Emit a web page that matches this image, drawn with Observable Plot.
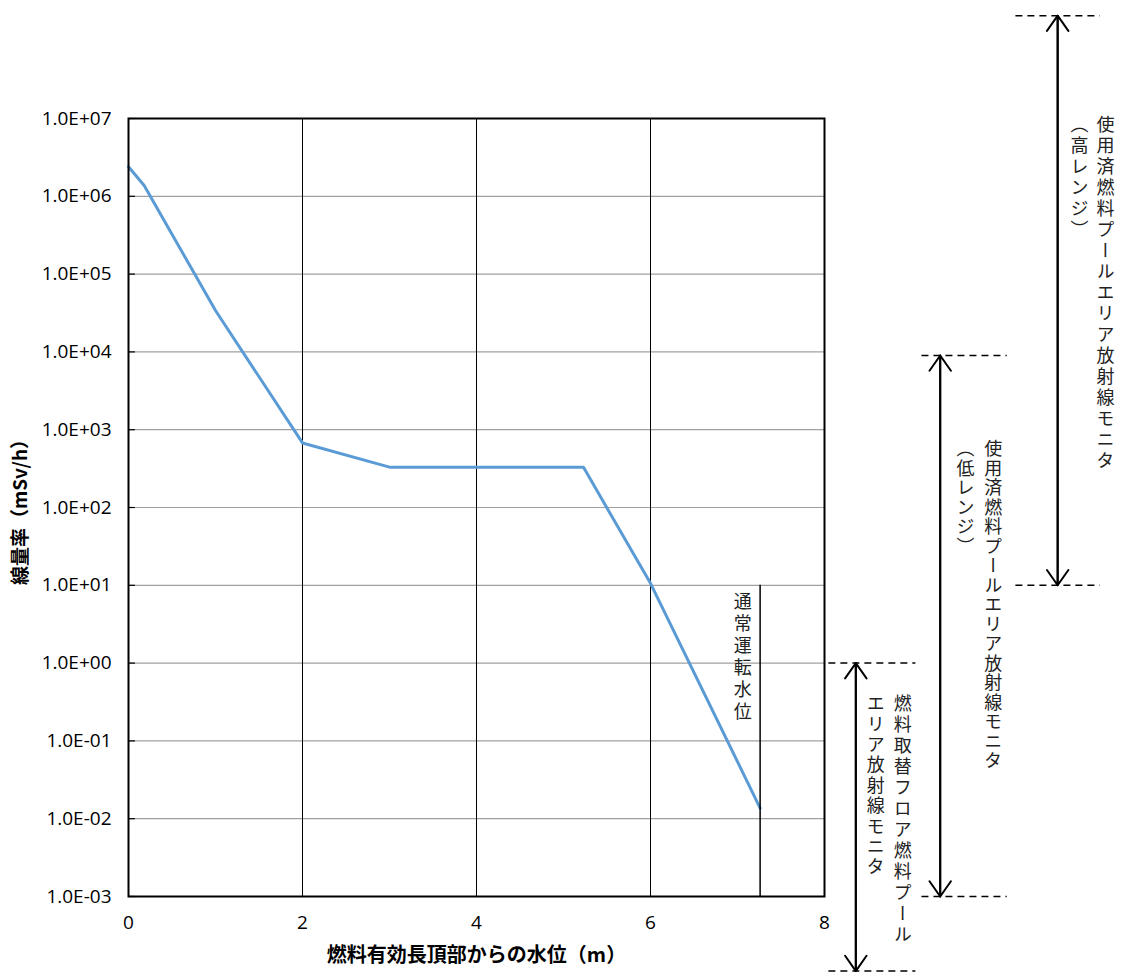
<!DOCTYPE html>
<html><head><meta charset="utf-8">
<script src="https://cdn.jsdelivr.net/npm/d3@7"></script>
<script src="https://cdn.jsdelivr.net/npm/@observablehq/plot@0.6"></script>
<style>body{margin:0;background:#fff} #chart svg{display:block}</style>
</head><body><div id="chart"></div>
<script>
// ---- data ----
const waterLevel = [0, 0.18, 1, 2, 3, 5.23, 6, 7.26];
const doseRate = [2.4e6, 1.38e6, 3.4e4, 676, 330, 328, 10.6, 0.0137];
const yTicks = [1e-3, 1e-2, 1e-1, 1e0, 1e1, 1e2, 1e3, 1e4, 1e5, 1e6, 1e7];
const xTicks = [0, 2, 4, 6, 8];
const xGrid = [2, 4, 6];
const xLabel = "燃料有効長頂部からの水位（m）";
const yLabel = "線量率（mSv/h）";
const normalLevelX = [7.26];
const normalLevelTop = [10];
const normalLevelLabel = ["通常運転水位"];
const normalLevelLabelTop = [9.6];
const monitorLine1 = ["使用済燃料プールエリア放射線モニタ", "使用済燃料プールエリア放射線モニタ", "燃料取替フロア燃料プール"];
const monitorLine2 = ["（高レンジ）", "（低レンジ）", "エリア放射線モニタ"];
const monitorTop = [2.1e8, 9e3, 1];
const monitorBottom = [10, 1e-3, 1.1e-4];
const monitorArrowX = [10.68, 9.33, 8.36];
const monitorDashX1 = [10.2, 9.12, 8.05];
const monitorDashX2 = [11.17, 10.1, 9.05];
const monitorText1X = [11.23, 9.94, 8.9];
const monitorText2X = [10.93, 9.62, 8.59];
const monitorTextTop = [1.3e7, 890, 0.47];

// ---- derived tables ----
const curve = waterLevel.map((x, i) => ({x, y: doseRate[i]}));
const dashes = monitorTop.flatMap((t, i) => [
  {x1: monitorDashX1[i], x2: monitorDashX2[i], y: t},
  {x1: monitorDashX1[i], x2: monitorDashX2[i], y: monitorBottom[i]}
]);
const arrows = monitorTop.flatMap((t, i) => [
  {x: monitorArrowX[i], y1: monitorBottom[i], y2: t},
  {x: monitorArrowX[i], y1: t, y2: monitorBottom[i]}
]);
const vTexts = [
  ...monitorLine1.map((t, i) => ({text: t, x: monitorText1X[i], y: monitorTextTop[i]})),
  ...monitorLine2.map((t, i) => ({text: t, x: monitorText2X[i], y: monitorTextTop[i]})),
  ...normalLevelLabel.map((t, i) => ({text: t, x: normalLevelX[i] - 0.2, y: normalLevelLabelTop[i]}))
];
// letter spacing (px) per vertical text, in vTexts order
const vSpacing = [3.0, 1.5, 3, 3.0, 1.5, 2.4, 4.0];

const fmt = d => {
  const e = Math.round(Math.log10(d));
  return "1.0E" + (e < 0 ? "-" : "+") + String(Math.abs(e)).padStart(2, "0");
};

const tickFont = "'Open Sans', sans-serif";
const cjkFont = "'Noto Sans CJK JP', sans-serif";

const plot = Plot.plot({
  width: 1123, height: 974,
  marginLeft: 128, marginRight: 299, marginTop: 118, marginBottom: 78,
  style: {fontFamily: tickFont, fontSize: "19px", color: "#000", background: "#fff", overflow: "visible"},
  x: {domain: [0, 8], label: null},
  y: {type: "log", domain: [1e-3, 1e7], label: null},
  marks: [
    Plot.ruleY(yTicks.slice(1, -1), {stroke: "#a0a0a0", strokeWidth: 1.2}),
    Plot.ruleY(yTicks, {x1: 0, x2: 0.08, stroke: "#000", strokeWidth: 1.2}),
    Plot.ruleX(xGrid, {stroke: "#000", strokeWidth: 1}),
    Plot.line(curve, {x: "x", y: "y", stroke: "#5B9BD5", strokeWidth: 3}),
    Plot.ruleX(normalLevelX, {y1: 1e-3, y2: normalLevelTop[0], stroke: "#000", strokeWidth: 1.5}),
    Plot.frame({stroke: "#000", strokeWidth: 2}),
    Plot.axisX({ticks: xTicks, tickSize: 0, tickPadding: 19, fontSize: 19, fontFamily: tickFont, label: null}),
    Plot.axisY({ticks: yTicks, tickFormat: fmt, tickSize: 0, tickPadding: 17, fontSize: 19, fontFamily: tickFont, label: null}),
    Plot.ruleY(dashes, {x1: "x1", x2: "x2", y: "y", stroke: "#000", strokeWidth: 1.5, strokeDasharray: "7,5"}),
    Plot.arrow(arrows, {x1: "x", x2: "x", y1: "y1", y2: "y2", stroke: "#000", strokeWidth: 2, headLength: 14, headAngle: 70}),
    Plot.text(vTexts, {x: "x", y: "y", text: "text", textAnchor: "start", fontSize: 18, fontFamily: cjkFont, fill: "#222"}),
    Plot.text([yLabel], {text: d => d, frameAnchor: "left", dx: -108, rotate: -90, textAnchor: "middle", lineAnchor: "middle", fontWeight: "bold", fontSize: 19, fontFamily: cjkFont}),
    Plot.text([xLabel], {text: d => d, frameAnchor: "bottom", dy: 59, textAnchor: "middle", lineAnchor: "middle", fontWeight: "bold", fontSize: 20, fontFamily: cjkFont})
  ]
});

// vertical (tategaki) writing for annotation texts
const vset = new Set(vTexts.map(d => d.text));
let vi = 0;
plot.querySelectorAll("text").forEach(t => {
  if (vset.has(t.textContent)) {
    t.setAttribute("writing-mode", "vertical-rl");
    t.style.writingMode = "vertical-rl";
    t.removeAttribute("dy");
    t.style.letterSpacing = (vSpacing[vi] ?? 2) + "px";
    vi++;
  }
});
document.getElementById("chart").append(plot);
</script>
</body></html>
